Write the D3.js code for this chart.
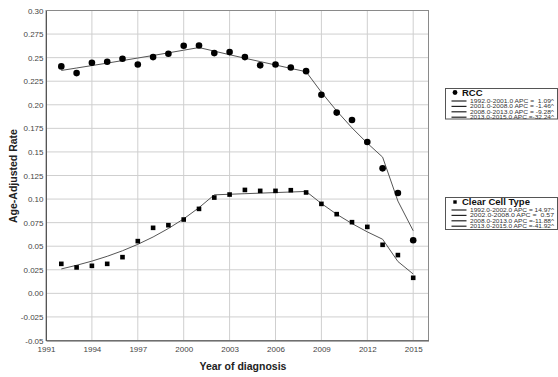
<!DOCTYPE html>
<html><head><meta charset="utf-8">
<script src="https://cdn.jsdelivr.net/npm/d3@7"></script>
<style>body{margin:0;background:#fff}svg{display:block;font-family:"Liberation Sans",Arial,sans-serif}</style>
</head><body><svg id="c" width="558" height="377"></svg>
<script>
const years = d3.range(1992, 2016);
const rccObserved = [0.2407,0.2336,0.2446,0.2457,0.2488,0.2428,0.2506,0.2541,0.2626,0.2629,0.2548,0.2559,0.2506,0.2418,0.2428,0.2396,0.2357,0.2107,0.1917,0.1839,0.1605,0.1326,0.1065,0.0564];
const rccFitted = [0.2364,0.2390,0.2416,0.2442,0.2469,0.2496,0.2523,0.2551,0.2579,0.2607,0.2569,0.2531,0.2494,0.2458,0.2422,0.2386,0.2351,0.2133,0.1935,0.1755,0.1593,0.1445,0.0979,0.0664];
const ccObserved = [0.0313,0.0275,0.0292,0.0313,0.0384,0.0554,0.0695,0.0723,0.0783,0.0896,0.1016,0.1048,0.1097,0.1087,0.1087,0.1094,0.1070,0.0949,0.0840,0.0755,0.0705,0.0515,0.0406,0.0165];
const ccFitted = [0.0259,0.0298,0.0342,0.0393,0.0452,0.0520,0.0598,0.0688,0.0790,0.0909,0.1045,0.1051,0.1057,0.1063,0.1069,0.1075,0.1081,0.0953,0.0839,0.0740,0.0652,0.0574,0.0338,0.0205];
const xTicks = [1991,1994,1997,2000,2003,2006,2009,2012,2015];
const yTicks = [-0.05,-0.025,0,0.025,0.05,0.075,0.1,0.125,0.15,0.175,0.2,0.225,0.25,0.275,0.3];
const yTickLabels = ["-0.05","-0.025","0.00","0.025","0.05","0.075","0.10","0.125","0.15","0.175","0.20","0.225","0.25","0.275","0.30"];
const rccLegend = ["1992.0-2001.0 APC =  1.09^","2001.0-2008.0 APC = -1.46^","2008.0-2013.0 APC = -9.28^","2013.0-2015.0 APC =-32.24^"];
const ccLegend = ["1992.0-2002.0 APC = 14.97^","2002.0-2008.0 APC =  0.57","2008.0-2013.0 APC =-11.88^","2013.0-2015.0 APC =-41.92^"];

const svg = d3.select("#c");
const L=46, R=428.5, T=10.5, B=340.5;
const x = d3.scaleLinear().domain([1991,2016]).range([L,R]);
const y = d3.scaleLinear().domain([-0.05,0.30]).range([B,T]);

// grid
const g = svg.append("g");
g.selectAll(".gx").data(xTicks.slice(1)).join("line")
 .attr("x1",d=>x(d)).attr("x2",d=>x(d)).attr("y1",T).attr("y2",B)
 .attr("stroke","#cfcfcf").attr("stroke-width",1);
g.selectAll(".gy").data(yTicks.slice(1)).join("line")
 .attr("x1",L).attr("x2",R).attr("y1",d=>y(d)).attr("y2",d=>y(d))
 .attr("stroke","#cfcfcf").attr("stroke-width",1);
// frame
svg.append("rect").attr("x",L).attr("y",T).attr("width",R-L).attr("height",B-T)
 .attr("fill","none").attr("stroke","#8a8a8a").attr("stroke-width",1);

// axes
const xa = svg.append("g").attr("transform",`translate(0,${B})`)
 .call(d3.axisBottom(x).tickValues(xTicks).tickFormat(d3.format("d")).tickSize(0).tickPadding(6));
const ya = svg.append("g").attr("transform",`translate(${L},0)`)
 .call(d3.axisLeft(y).tickValues(yTicks).tickFormat((d,i)=>yTickLabels[i]).tickSize(0).tickPadding(2.5));
[xa,ya].forEach(a=>{a.select(".domain").attr("stroke","#555");
 a.selectAll("text").attr("fill","#444").style("font-size","8px");});

// lines
const line = d3.line().x((d,i)=>x(years[i])).y(d=>y(d));
[rccFitted, ccFitted].forEach(s=>svg.append("path").datum(s).attr("d",line)
 .attr("fill","none").attr("stroke","#555").attr("stroke-width",1));

// points
svg.selectAll(".rcc").data(rccObserved).join("circle")
 .attr("cx",(d,i)=>x(years[i])).attr("cy",d=>y(d)).attr("r",3.3).attr("fill","#000");
svg.selectAll(".cc").data(ccObserved).join("rect")
 .attr("x",(d,i)=>x(years[i])-2.3).attr("y",d=>y(d)-2.3).attr("width",4.6).attr("height",4.6).attr("fill","#000");

// axis titles
svg.append("text").attr("x",243).attr("y",370).attr("text-anchor","middle")
 .attr("font-weight","bold").attr("font-size","10.5px").attr("fill","#222").text("Year of diagnosis");
svg.append("text").attr("transform","translate(17,176) rotate(-90)").attr("text-anchor","middle")
 .attr("font-weight","bold").attr("font-size","10.5px").attr("fill","#222").text("Age-Adjusted Rate");

// legends
function legend(y0, h, title, items, marker){
  const lg = svg.append("g");
  lg.append("rect").attr("x",445.5).attr("y",y0).attr("width",112).attr("height",h)
   .attr("fill","#fff").attr("stroke","#555").attr("stroke-width",1);
  if(marker==="circle") lg.append("circle").attr("cx",455).attr("cy",y0+4).attr("r",2.4).attr("fill","#000");
  else lg.append("rect").attr("x",453.3).attr("y",y0+2.8).attr("width",3.4).attr("height",3.4).attr("fill","#000");
  lg.append("text").attr("x",462).attr("y",y0+7).attr("font-weight","bold").attr("font-size","9.5px").attr("fill","#111").text(title);
  items.forEach((t,i)=>{
    const yy = y0+12.5+i*5.4;
    lg.append("line").attr("x1",451.5).attr("x2",466.5).attr("y1",yy).attr("y2",yy).attr("stroke","#222").attr("stroke-width",1.2);
    lg.append("text").attr("x",470).attr("y",yy+1.8).attr("font-size","4.7px").attr("fill","#333")
     .attr("textLength",84).attr("lengthAdjust","spacingAndGlyphs")
     .attr("xml:space","preserve").style("white-space","pre").text(t);
  });
}
legend(88.5, 30.5, "RCC", rccLegend, "circle");
legend(197.5, 32, "Clear Cell Type", ccLegend, "square");
</script></body></html>
